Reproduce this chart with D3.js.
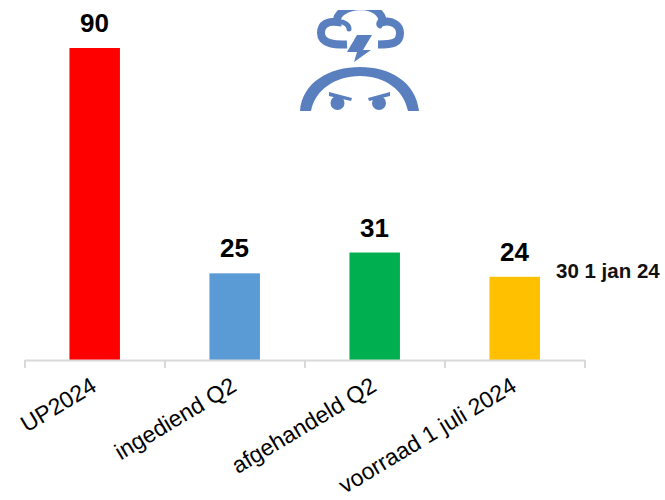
<!DOCTYPE html>
<html><head><meta charset="utf-8">
<script src="https://cdn.jsdelivr.net/npm/d3@7"></script>
<style>html,body{margin:0;padding:0;background:#fff}svg{display:block}</style>
</head><body><div id="c"></div>
<script>
const categories = ["UP2024","ingediend Q2","afgehandeld Q2","voorraad 1 juli 2024"];
const values = [90,25,31,24];
const colors = ["#ff0000","#5b9bd5","#00b050","#ffc000"];
const note = "30 1 jan 24";
const font = "'Liberation Sans', Arial, sans-serif";
const svg = d3.select("#c").append("svg").attr("width",665).attr("height",500);
const x = d3.scaleBand().domain(categories).range([25,585]).paddingInner(0).paddingOuter(0);
const y = d3.scaleLinear().domain([0,90]).range([360,48]);
const bw = 50.5;
svg.selectAll("rect.bar").data(values).join("rect").attr("class","bar")
  .attr("x",(d,i)=>x(categories[i])+x.bandwidth()/2-bw/2-0.3)
  .attr("width",bw).attr("y",d=>y(d)).attr("height",d=>y(0)-y(d))
  .attr("fill",(d,i)=>colors[i]);
const ticks = categories.map(c=>x(c)).concat([585]);
svg.append("path").attr("d",`M25,360.5H585`).attr("stroke","#d9d9d9").attr("stroke-width",2).attr("fill","none");
svg.selectAll("line.t").data(ticks).join("line").attr("class","t")
  .attr("x1",d=>d).attr("x2",d=>d).attr("y1",360).attr("y2",368)
  .attr("stroke","#d9d9d9").attr("stroke-width",2);
svg.selectAll("text.v").data(values).join("text").attr("class","v")
  .attr("x",(d,i)=>x(categories[i])+x.bandwidth()/2-0.5).attr("y",d=>y(d)-16)
  .attr("text-anchor","middle").attr("font-family",font).attr("font-weight","bold")
  .attr("font-size",26).attr("fill","#000").text(d=>d);
svg.selectAll("text.c").data(categories).join("text").attr("class","c")
  .attr("transform",(d,i)=>`translate(${x(d)+x.bandwidth()/2+3},${390}) rotate(-31)`)
  .attr("text-anchor","end").attr("font-family",font).attr("font-size",23).attr("fill","#000").text(d=>d);
svg.append("text").attr("x",556).attr("y",278).attr("font-family",font).attr("font-weight","bold")
  .attr("font-size",20.5).attr("fill","#111").text(note);
// icon
const blue = "#5a7fbf";
const icon = svg.append("g");
icon.append("path").attr("d","M347,44.5 C336,45 321,44 321,33 C321,24 328,21 337,22 C336,14 345,7 360,6 C374,6 382,13 383,22 C392,20 400,25 400,33 C400,43 393,44.5 378,44.5")
  .attr("fill","none").attr("stroke",blue).attr("stroke-width",8);
icon.append("path").attr("d","M337,22 C344,21 349,25 349,29 M383,22 C380,18 377,25 380,26")
  .attr("fill","none").attr("stroke",blue).attr("stroke-width",5).attr("stroke-linecap","round");
icon.append("rect").attr("x",310).attr("y",0).attr("width",100).attr("height",10).attr("fill","#fff");
icon.append("path").attr("d","M357,35 H372 L363,50 H371 L354,62 L357,52 H347 Z").attr("fill",blue);
icon.append("path").attr("d","M300,111 C302,82 330,67 360,67 C390,67 416,82 419,111 H408 C404,90 385,76 360,76 C335,76 315,90 311,111 Z").attr("fill",blue);
icon.append("path").attr("d","M329,92 L352,98 L351,101 L329,96 Z M390,92 L390,96 L369,101 L368,98 Z").attr("fill",blue);
icon.append("circle").attr("cx",337.5).attr("cy",103).attr("r",7).attr("fill",blue);
icon.append("circle").attr("cx",379).attr("cy",103).attr("r",7).attr("fill",blue);
</script></body></html>
